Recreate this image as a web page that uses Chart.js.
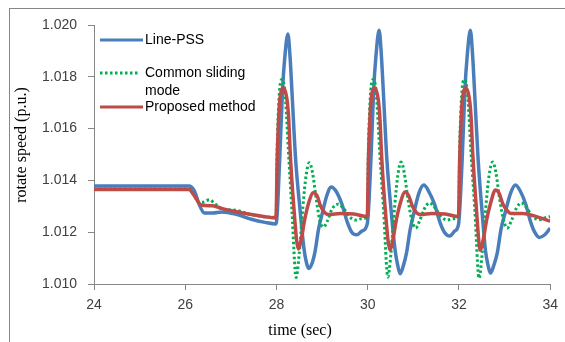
<!DOCTYPE html>
<html>
<head>
<meta charset="utf-8">
<script src="https://cdn.jsdelivr.net/npm/chart.js@4/dist/chart.umd.min.js"></script>
<style>
    body { margin: 0; background: #fff; }
    #c { display: block; }
</style>
</head>
<body>
<canvas id="c" width="565" height="342"></canvas>
<script>
// Line-PSS (blue)
var pssTime = [24, 26.08, 26.2, 26.3, 26.42, 26.6, 26.8, 27.1, 27.45, 27.75, 27.99,
    28.07, 28.13, 28.18, 28.25, 28.30, 28.34, 28.42, 28.52, 28.60, 28.66, 28.71, 28.78, 28.85, 28.92, 29.0, 29.1, 29.2, 29.3, 29.43, 29.55, 29.65, 29.76, 29.88, 29.99,
    30.07, 30.13, 30.18, 30.25, 30.30, 30.34, 30.42, 30.52, 30.60, 30.66, 30.71, 30.78, 30.85, 30.93, 31.02, 31.12, 31.23, 31.33, 31.46, 31.58, 31.68, 31.8, 31.91, 31.99,
    32.07, 32.13, 32.18, 32.25, 32.30, 32.34, 32.42, 32.51, 32.58, 32.64, 32.69, 32.76, 32.84, 32.92, 33.02, 33.13, 33.24, 33.34, 33.46, 33.57, 33.66, 33.76, 33.88, 34];
var pssSpeed = [1.01378, 1.01378, 1.0136, 1.0131, 1.01274, 1.01274, 1.01278, 1.0127, 1.0125, 1.01238, 1.01232,
    1.0148, 1.0174, 1.0187, 1.01965, 1.0187, 1.0174, 1.0148, 1.0128, 1.0114, 1.0108, 1.0106, 1.0108, 1.0113, 1.0121, 1.0127, 1.0134, 1.01375, 1.0136, 1.0131, 1.0124, 1.0120, 1.0119, 1.01205, 1.01232,
    1.0148, 1.0175, 1.0188, 1.0198, 1.0188, 1.0175, 1.0148, 1.0127, 1.0113, 1.0107, 1.0104, 1.0107, 1.0112, 1.0121, 1.0128, 1.0135, 1.01382, 1.0136, 1.0131, 1.0124, 1.0120, 1.01185, 1.01205, 1.0123,
    1.0148, 1.0175, 1.0188, 1.0198, 1.0188, 1.0175, 1.0148, 1.0127, 1.0113, 1.0107, 1.01042, 1.0107, 1.0112, 1.0121, 1.0128, 1.0135, 1.01382, 1.0136, 1.0131, 1.0124, 1.0120, 1.0118, 1.0119, 1.01216];

// Common sliding mode (green dotted)
var smcTime = [24, 26.08, 26.2, 26.3, 26.4, 26.53, 26.65, 26.8, 27.1, 27.4, 27.7, 27.99,
    28.015, 28.06, 28.12, 28.18, 28.22, 28.26, 28.34, 28.43, 28.5, 28.58, 28.65, 28.72, 28.79, 28.87, 28.95, 29.03, 29.12, 29.22, 29.35, 29.48, 29.6, 29.73, 29.86, 29.99,
    30.015, 30.06, 30.12, 30.18, 30.22, 30.26, 30.35, 30.44, 30.51, 30.59, 30.66, 30.73, 30.8, 30.88, 30.97, 31.05, 31.14, 31.24, 31.36, 31.49, 31.61, 31.74, 31.87, 31.99,
    32.015, 32.06, 32.12, 32.18, 32.22, 32.26, 32.35, 32.44, 32.51, 32.59, 32.66, 32.74, 32.81, 32.89, 32.98, 33.06, 33.15, 33.25, 33.37, 33.5, 33.62, 33.75, 33.88, 34];
var smcSpeed = [1.01367, 1.01367, 1.0134, 1.01315, 1.01316, 1.01325, 1.0131, 1.0129, 1.01285, 1.0127, 1.0126, 1.01258,
    1.0152, 1.0173, 1.0179, 1.0175, 1.0165, 1.0152, 1.0128, 1.01025, 1.0112, 1.0130, 1.0142, 1.01468, 1.0143, 1.0133, 1.01245, 1.0122, 1.01245, 1.0129, 1.01308, 1.0129, 1.0126, 1.01247, 1.01252, 1.0126,
    1.0152, 1.0173, 1.0179, 1.0175, 1.0165, 1.0152, 1.0128, 1.01027, 1.0112, 1.0130, 1.0142, 1.01471, 1.0143, 1.0133, 1.01245, 1.01216, 1.01245, 1.0129, 1.01313, 1.0129, 1.0126, 1.01247, 1.01252, 1.0126,
    1.0152, 1.0173, 1.0179, 1.0175, 1.0165, 1.0152, 1.0128, 1.01022, 1.0112, 1.0130, 1.0142, 1.01471, 1.0143, 1.0133, 1.01245, 1.01216, 1.01245, 1.0129, 1.01313, 1.0129, 1.0126, 1.01248, 1.01255, 1.0126];

// Proposed method (red)
var propTime = [24, 26.08, 26.2, 26.35, 26.6, 26.8, 27.1, 27.45, 27.75, 27.99,
    28.015, 28.06, 28.1, 28.15, 28.2, 28.24, 28.27, 28.3, 28.37, 28.48, 28.54, 28.62, 28.7, 28.81, 28.89, 28.97, 29.06, 29.15, 29.4, 29.7, 29.99,
    30.015, 30.06, 30.1, 30.15, 30.2, 30.24, 30.27, 30.3, 30.37, 30.49, 30.55, 30.63, 30.71, 30.82, 30.9, 30.98, 31.07, 31.16, 31.4, 31.7, 31.99,
    32.015, 32.06, 32.1, 32.15, 32.2, 32.24, 32.27, 32.3, 32.37, 32.47, 32.53, 32.61, 32.69, 32.8, 32.88, 32.96, 33.05, 33.14, 33.4, 33.7, 34];
var propSpeed = [1.01365, 1.01365, 1.0134, 1.01305, 1.01302, 1.01292, 1.0128, 1.01268, 1.0126, 1.01255,
    1.0148, 1.0168, 1.01742, 1.01757, 1.0174, 1.0170, 1.0163, 1.0151, 1.0132, 1.01135, 1.0117, 1.0125, 1.0131, 1.01352, 1.0134, 1.0130, 1.01275, 1.01268, 1.01272, 1.0127, 1.0126,
    1.0148, 1.0168, 1.01742, 1.01757, 1.0174, 1.0170, 1.0163, 1.0151, 1.0132, 1.0113, 1.0117, 1.0125, 1.0131, 1.01355, 1.0134, 1.0130, 1.01275, 1.01268, 1.01272, 1.0127, 1.0126,
    1.0148, 1.0168, 1.01742, 1.01757, 1.0174, 1.0170, 1.0163, 1.0151, 1.0132, 1.0113, 1.0117, 1.0125, 1.0131, 1.01363, 1.0135, 1.0131, 1.01285, 1.01272, 1.01272, 1.0126, 1.01243];

var seriesNames = ["Line-PSS", "Common sliding mode", "Proposed method"];
var xTicks = [24, 26, 28, 30, 32, 34];
var yTicks = [1.010, 1.012, 1.014, 1.016, 1.018, 1.020];

var BLUE = '#4a7ebb', GREEN = '#00b050', RED = '#be4b48', AXIS = '#868686';

function points(t, v) {
    var out = [];
    for (var i = 0; i < t.length; i++) {
        out.push({x: t[i], y: v[i]});
    }
    return out;
}

// frame, in-plot legend and axis titles
var decorations = {
    id: 'decorations',
    afterDraw: function (chart) {
        var ctx = chart.ctx;
        ctx.save();
        ctx.strokeStyle = AXIS;
        ctx.lineWidth = 1;
        ctx.strokeRect(9.5, 8.5, 700, 500);

        ctx.font = '14px "Liberation Sans"';
        ctx.fillStyle = '#000';
        ctx.textBaseline = 'middle';
        ctx.lineWidth = 3;

        ctx.strokeStyle = BLUE;
        ctx.beginPath(); ctx.moveTo(100, 40); ctx.lineTo(143, 40); ctx.stroke();
        ctx.fillText(seriesNames[0], 145, 40);

        ctx.strokeStyle = GREEN;
        ctx.setLineDash([2.5, 2.5]);
        ctx.beginPath(); ctx.moveTo(100, 73); ctx.lineTo(138, 73); ctx.stroke();
        ctx.setLineDash([]);
        ctx.fillText("Common sliding", 145, 73);
        ctx.fillText("mode", 145, 91);

        ctx.strokeStyle = RED;
        ctx.beginPath(); ctx.moveTo(100, 107); ctx.lineTo(143, 107); ctx.stroke();
        ctx.fillText(seriesNames[2], 145, 107);

        ctx.font = '16px "Liberation Serif"';
        ctx.textAlign = 'center';
        ctx.fillText("time (sec)", 300, 331);
        ctx.translate(22, 145);
        ctx.rotate(-Math.PI / 2);
        ctx.fillText("rotate speed (p.u.)", 0, 0);
        ctx.restore();
    }
};

new Chart(document.getElementById('c'), {
    type: 'line',
    data: {
        datasets: [{
            label: seriesNames[0],
            data: points(pssTime, pssSpeed),
            borderColor: BLUE,
            borderWidth: 3.5,
            order: 2
        }, {
            label: seriesNames[1],
            data: points(smcTime, smcSpeed),
            borderColor: GREEN,
            borderWidth: 3,
            borderDash: [2.5, 2.5],
            order: 1
        }, {
            label: seriesNames[2],
            data: points(propTime, propSpeed),
            borderColor: RED,
            borderWidth: 3.5,
            order: 0
        }]
    },
    options: {
        responsive: false,
        animation: false,
        devicePixelRatio: 1,
        layout: {padding: {top: 25, right: 13, left: 0, bottom: 0}},
        elements: {
            point: {radius: 0},
            line: {cubicInterpolationMode: 'monotone', fill: false}
        },
        plugins: {legend: {display: false}, tooltip: {enabled: false}},
        scales: {
            x: {
                type: 'linear',
                min: 24,
                max: 34,
                afterFit: function (s) { s.height = 58; },
                afterBuildTicks: function (s) { s.ticks = xTicks.map(function (v) { return {value: v}; }); },
                ticks: {font: {family: 'Liberation Sans', size: 14}, color: '#404040', padding: 7, maxRotation: 0},
                grid: {drawOnChartArea: false, color: AXIS, tickLength: 6},
                border: {color: AXIS}
            },
            y: {
                min: 1.010,
                max: 1.020,
                afterFit: function (s) { s.width = 94; },
                afterBuildTicks: function (s) { s.ticks = yTicks.map(function (v) { return {value: v}; }); },
                ticks: {
                    font: {family: 'Liberation Sans', size: 14}, color: '#404040', padding: 11,
                    callback: function (v) { return v.toFixed(3); }
                },
                grid: {drawOnChartArea: false, color: AXIS, tickLength: 6},
                border: {color: AXIS}
            }
        }
    },
    plugins: [decorations]
});
</script>
</body>
</html>
